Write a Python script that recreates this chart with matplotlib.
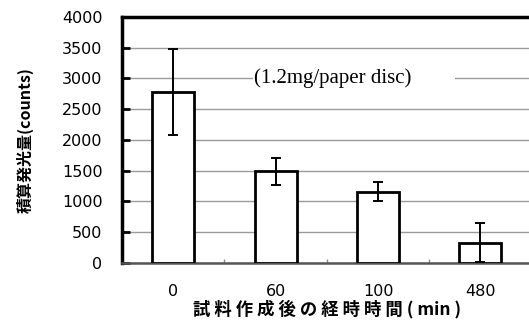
"""Luminescence bar chart: integrated counts vs. time after sample preparation."""

import matplotlib
matplotlib.use("Agg")
import matplotlib.pyplot as plt
import numpy as np
from matplotlib.patches import Rectangle

CATEGORIES = ["0", "60", "100", "480"]
COUNTS = [2780, 1490, 1160, 330]
ERRORS = [700, 225, 160, 320]
Y_TICKS = [0, 500, 1000, 1500, 2000, 2500, 3000, 3500, 4000]

JP = ["Noto Sans CJK JP", "DejaVu Sans"]
SERIF = ["Liberation Serif", "DejaVu Serif"]
NUM = ["DejaVu Sans"]

plt.rcParams["font.family"] = JP

fig = plt.figure(figsize=(5.29, 3.25), dpi=100)
ax = fig.add_axes([0.2306, 0.1908, 0.7694 + 0.005, 0.9477 - 0.1908])

x = np.arange(len(CATEGORIES))
ax.bar(x, COUNTS, width=0.41, color="white", edgecolor="black",
       linewidth=2.0, zorder=3)
ax.errorbar(x, COUNTS, yerr=ERRORS, fmt="none", ecolor="black",
            elinewidth=1.4, capsize=3.5, capthick=1.4, zorder=4)

ax.set_xlim(-0.5, len(CATEGORIES) - 0.5)
ax.set_ylim(0, 4000)
ax.set_yticks(Y_TICKS)
ax.set_yticklabels([str(v) for v in Y_TICKS], fontsize=11.5, family=NUM)
ax.set_xticks(x)
ax.set_xticklabels(CATEGORIES, fontsize=11.5, family=NUM)
ax.set_xticks(x[:-1] + 0.5, minor=True)

ax.yaxis.grid(True, color="#9a9a9a", linewidth=1.0, zorder=0)
ax.set_axisbelow(True)

ax.tick_params(axis="y", direction="in", length=6, width=2, pad=14,
               color="black")
ax.tick_params(axis="x", which="major", length=0, pad=15)
ax.tick_params(axis="x", which="minor", direction="in", length=3,
               width=1, color="#888888")

for side in ("left", "top"):
    ax.spines[side].set_linewidth(2.5)
    ax.spines[side].set_color("black")
ax.spines["right"].set_visible(False)
ax.spines["bottom"].set_linewidth(1.8)
ax.spines["bottom"].set_color("#555555")

# white box under the annotation so the 3000 gridline breaks around it
ax.add_patch(Rectangle((0.78, 2800), 1.97, 400, facecolor="white",
                       edgecolor="none", zorder=1))
ax.text(0.79, 3000, "(1.2mg/paper disc)", family=SERIF, fontsize=15,
        ha="left", va="center", zorder=2)

ax.set_ylabel("積算発光量(counts)", fontsize=11.5, fontweight="bold",
              labelpad=20)
ax.set_xlabel("試 料 作 成 後 の 経 時 時 間 ( min )", fontsize=12.5,
              fontweight="bold", labelpad=1)

fig.savefig("out.png", dpi=100)
